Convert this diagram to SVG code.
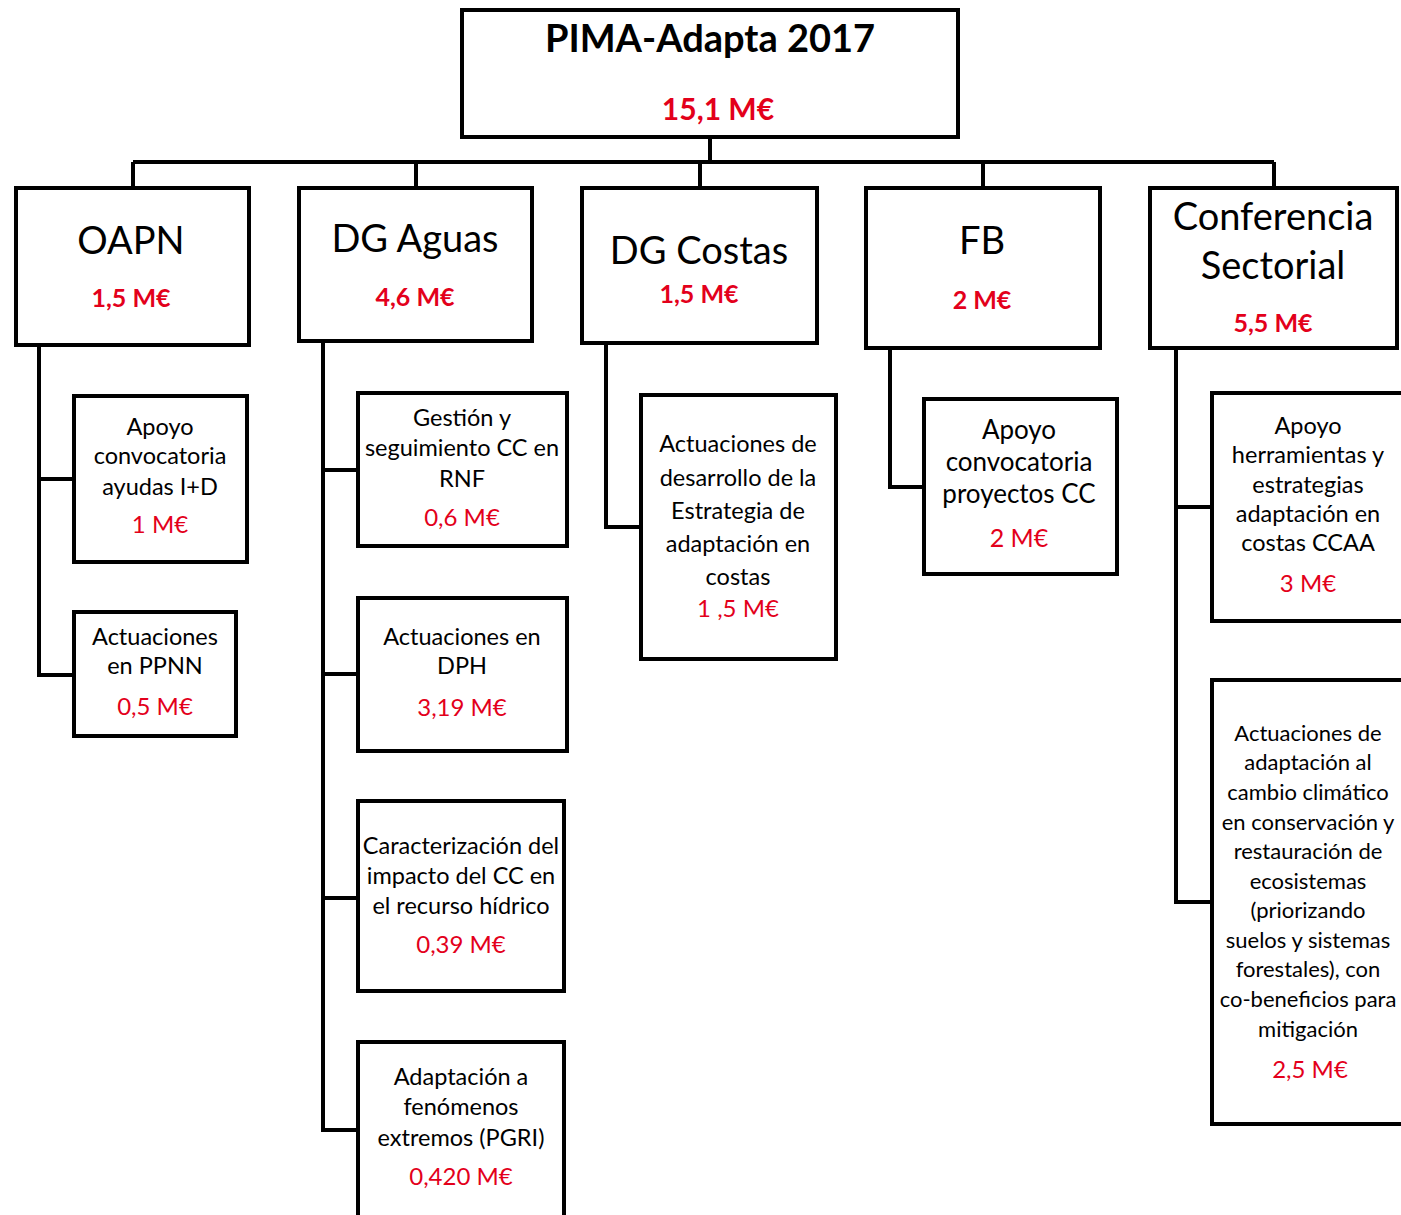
<svg xmlns="http://www.w3.org/2000/svg" width="1401" height="1215" viewBox="0 0 1401 1215">
<style>
.box{fill:#fff;stroke:#000;stroke-width:4}
.ln{fill:none;stroke:#000;stroke-width:4}
text{font-family:Lato,"Open Sans","Liberation Sans",sans-serif;text-anchor:middle;fill:#000}
.t1{font-size:38px;font-weight:bold}
.t2{font-size:38px}
.big{font-size:30px;font-weight:bold;fill:#e3001b}
.mid{font-size:25px;font-weight:bold;fill:#e3001b}
.s{font-size:23.5px}
.s3{font-size:22px}
.s2{font-size:26px}
.r{font-size:24px;fill:#e3001b}
.r2{font-size:25px;fill:#e3001b}
</style>
<rect width="1401" height="1215" fill="#fff"/>
<g id="connectors">
<path class="ln" d="M710 137V162M133 162H1274M133 162V188M416 162V188M700 162V188M983 162V188M1274 162V188"/>
<path class="ln" d="M39 345V675H74M39 479H74"/>
<path class="ln" d="M323 341V1130H358M323 470H358M323 674H358M323 898H358"/>
<path class="ln" d="M606 343V527H641"/>
<path class="ln" d="M890 348V487H924"/>
<path class="ln" d="M1176 348V902H1212M1176 507H1212"/>
</g>
<g id="root">
<rect class="box" x="462" y="10" width="496" height="127"/>
<text class="t1" x="710" y="52">PIMA-Adapta 2017</text>
<text class="big" x="718" y="120">15,1 M€</text>
</g>
<g id="oapn">
<rect class="box" x="16" y="188" width="233" height="157"/>
<text class="t2" x="131" y="254">OAPN</text>
<text class="mid" x="131" y="307">1,5 M€</text>
</g>
<g id="dgaguas">
<rect class="box" x="299" y="188" width="233" height="153"/>
<text class="t2" x="415" y="252">DG Aguas</text>
<text class="mid" x="415" y="306">4,6 M€</text>
</g>
<g id="dgcostas">
<rect class="box" x="582" y="188" width="235" height="155"/>
<text class="t2" x="699" y="264">DG Costas</text>
<text class="mid" x="699" y="303">1,5 M€</text>
</g>
<g id="fb">
<rect class="box" x="866" y="188" width="234" height="160"/>
<text class="t2" x="982" y="254">FB</text>
<text class="mid" x="982" y="309">2 M€</text>
</g>
<g id="conferencia">
<rect class="box" x="1150" y="188" width="247" height="160"/>
<text class="t2" x="1273" y="230">Conferencia</text>
<text class="t2" x="1273" y="279">Sectorial</text>
<text class="mid" x="1273" y="332">5,5 M€</text>
</g>
<g id="oapn1">
<rect class="box" x="74" y="396" width="173" height="166"/>
<text class="s" x="160" y="435">Apoyo</text>
<text class="s" x="160" y="464">convocatoria</text>
<text class="s" x="160" y="495">ayudas I+D</text>
<text class="r" x="160" y="533">1 M€</text>
</g>
<g id="oapn2">
<rect class="box" x="74" y="612" width="162" height="124"/>
<text class="s" x="155" y="645">Actuaciones</text>
<text class="s" x="155" y="674">en PPNN</text>
<text class="r" x="155" y="715">0,5 M€</text>
</g>
<g id="aguas1">
<rect class="box" x="358" y="393" width="209" height="153"/>
<text class="s" x="462" y="426">Gestión y</text>
<text class="s" x="462" y="456">seguimiento CC  en</text>
<text class="s" x="462" y="487">RNF</text>
<text class="r" x="462" y="526">0,6 M€</text>
</g>
<g id="aguas2">
<rect class="box" x="358" y="598" width="209" height="153"/>
<text class="s" x="462" y="645">Actuaciones en</text>
<text class="s" x="462" y="674">DPH</text>
<text class="r" x="462" y="716">3,19 M€</text>
</g>
<g id="aguas3">
<rect class="box" x="358" y="801" width="206" height="190"/>
<text class="s" x="461" y="854">Caracterización del</text>
<text class="s" x="461" y="884">impacto del CC en</text>
<text class="s" x="461" y="914">el recurso hídrico</text>
<text class="r" x="461" y="953">0,39 M€</text>
</g>
<g id="aguas4">
<rect class="box" x="358" y="1042" width="206" height="180"/>
<text class="s" x="461" y="1085">Adaptación a</text>
<text class="s" x="461" y="1115">fenómenos</text>
<text class="s" x="461" y="1146">extremos (PGRI)</text>
<text class="r" x="461" y="1185">0,420 M€</text>
</g>
<g id="costas1">
<rect class="box" x="641" y="395" width="195" height="264"/>
<text class="s" x="738" y="452">Actuaciones de</text>
<text class="s" x="738" y="486">desarrollo de la</text>
<text class="s" x="738" y="519">Estrategia de</text>
<text class="s" x="738" y="552">adaptación en</text>
<text class="s" x="738" y="585">costas</text>
<text class="r" x="738" y="617">1 ,5 M€</text>
</g>
<g id="fb1">
<rect class="box" x="924" y="399" width="193" height="175"/>
<text class="s2" x="1019" y="439">Apoyo</text>
<text class="s2" x="1019" y="471">convocatoria</text>
<text class="s2" x="1019" y="503">proyectos CC</text>
<text class="r2" x="1019" y="547">2 M€</text>
</g>
<g id="conf1">
<rect class="box" x="1212" y="393" width="200" height="228"/>
<text class="s" x="1308" y="434">Apoyo</text>
<text class="s" x="1308" y="463">herramientas y</text>
<text class="s" x="1308" y="493">estrategias</text>
<text class="s" x="1308" y="522">adaptación  en</text>
<text class="s" x="1308" y="551">costas CCAA</text>
<text class="r" x="1308" y="592">3 M€</text>
</g>
<g id="conf2">
<rect class="box" x="1212" y="680" width="200" height="444"/>
<text class="s3" x="1308" y="741">Actuaciones de</text>
<text class="s3" x="1308" y="770">adaptación al</text>
<text class="s3" x="1308" y="800">cambio climático</text>
<text class="s3" x="1308" y="830">en conservación y</text>
<text class="s3" x="1308" y="859">restauración de</text>
<text class="s3" x="1308" y="889">ecosistemas</text>
<text class="s3" x="1308" y="918">(priorizando</text>
<text class="s3" x="1308" y="948">suelos y sistemas</text>
<text class="s3" x="1308" y="977">forestales),   con</text>
<text class="s3" x="1308" y="1007">co-beneficios para</text>
<text class="s3" x="1308" y="1037">mitigación</text>
<text class="r" x="1310" y="1078">2,5 M€</text>
</g>
</svg>
